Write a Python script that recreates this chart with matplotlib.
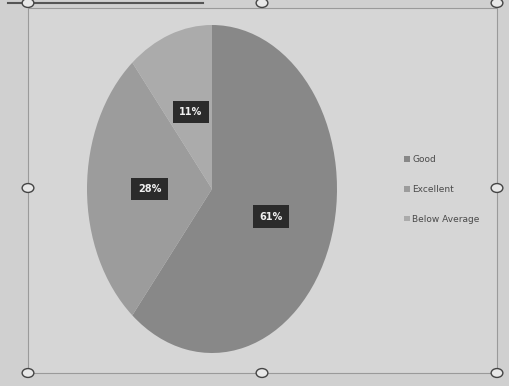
import matplotlib
matplotlib.use("Agg")
import matplotlib.pyplot as plt
from matplotlib.patches import Rectangle, Circle
from matplotlib.lines import Line2D

categories = ["Good", "Excellent", "Below Average"]
values = [61, 28, 11]
colors = ["#888888", "#9c9c9c", "#ababab"]

W, H = 510, 386
fig = plt.figure(figsize=(W / 100, H / 100), dpi=100)
fig.patch.set_facecolor("#d0d0d0")

def fx(x):
    return x / W

def fy(y):
    return 1 - y / H

# chart frame
fig.add_artist(Rectangle((fx(28), fy(373)), fx(497) - fx(28), fy(8) - fy(373),
                         transform=fig.transFigure, fill=True, facecolor="#d6d6d6",
                         edgecolor="#9a9a9a", lw=0.8, zorder=0))
# cut-off title underline
fig.add_artist(Line2D([fx(8), fx(203)], [fy(3), fy(3)], transform=fig.transFigure,
                      color="#555555", lw=1.5))

ax = fig.add_axes([fx(87), fy(353), fx(337) - fx(87), fy(25) - fy(353)])
ax.set_facecolor("none")
wedges, texts, autotexts = ax.pie(
    values, colors=colors, startangle=90, counterclock=False,
    autopct="%d%%", pctdistance=0.5,
    textprops=dict(color="#f0f0f0", fontsize=7, fontweight="bold"),
)
for t in autotexts:
    t.set_bbox(dict(boxstyle="square,pad=0.65", facecolor="#2b2b2b", edgecolor="none"))
ax.set_aspect("auto")
ax.set_xlim(-1, 1)
ax.set_ylim(-1, 1)
ax.axis("off")

leg = fig.legend(wedges, categories, loc="upper left",
                 bbox_to_anchor=(fx(396), fy(147)), frameon=False,
                 fontsize=6.5, labelspacing=2.3, handlelength=0.6,
                 handleheight=0.6, handletextpad=0.3, labelcolor="#4a4a4a")

# selection handles
for (x, y) in [(28, 3), (262, 3), (497, 3), (28, 188), (497, 188),
               (28, 373), (262, 373), (497, 373)]:
    fig.add_artist(Circle((fx(x), fy(y)), 0.0115, transform=fig.transFigure,
                          facecolor="#e8e8e8", edgecolor="#444444", lw=1.0,
                          zorder=5))

fig.savefig("out.png", dpi=100, facecolor=fig.get_facecolor())
